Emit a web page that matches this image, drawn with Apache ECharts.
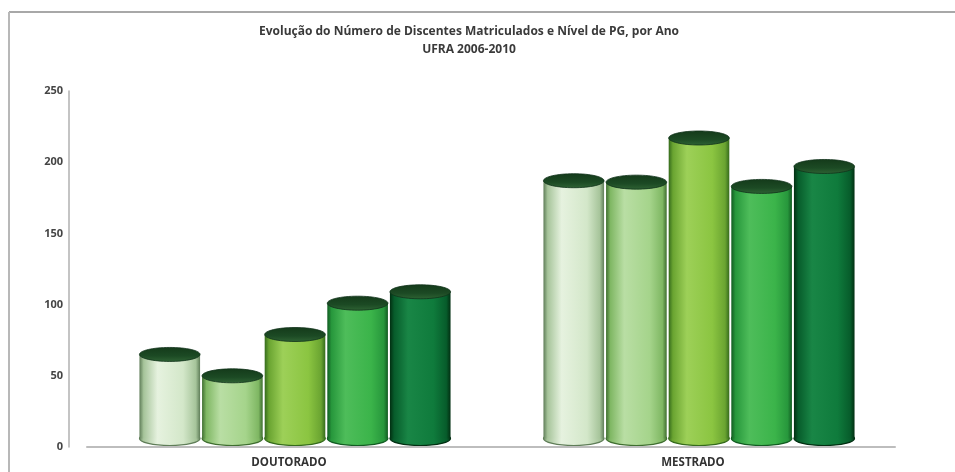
<!DOCTYPE html>
<html>
<head>
<meta charset="utf-8">
<script src="https://cdn.jsdelivr.net/npm/echarts@6/dist/echarts.min.js"></script>
<style>
html,body{margin:0;padding:0;background:#fff;}
#chart{width:955px;height:472px;}
</style>
</head>
<body>
<div id="chart"></div>
<script>
// ---- data ----
const categories = ['DOUTORADO', 'MESTRADO'];
const years = ['2006', '2007', '2008', '2009', '2010'];
const doutorado = [65, 50, 79, 101, 109];
const mestrado = [187, 186, 217, 183, 197];
const yTicks = [0, 50, 100, 150, 200, 250];

// ---- styles ----
const palette = [
  {edge:'#5f7d58', shade:'#a6c49a', base:'#d3e7c9', hi:'#e6f2df'},
  {edge:'#3f6e30', shade:'#7fb763', base:'#a5d48b', hi:'#b9dea4'},
  {edge:'#356b1c', shade:'#6aa431', base:'#8bc541', hi:'#9dd058'},
  {edge:'#125c22', shade:'#27973c', base:'#3bb44a', hi:'#4ebd5a'},
  {edge:'#022f12', shade:'#075c2b', base:'#0f7b3c', hi:'#198646'}
];
const topColor = '#1c4a24';

const chart = echarts.init(document.getElementById('chart'));

function bodyGradient(p) {
  return new echarts.graphic.LinearGradient(0, 0, 1, 0, [
    {offset: 0, color: p.edge},
    {offset: 0.07, color: p.shade},
    {offset: 0.3, color: p.hi},
    {offset: 0.72, color: p.base},
    {offset: 0.93, color: p.shade},
    {offset: 1, color: p.edge}
  ]);
}

function makeRender(si) {
  return function (params, api) {
    const cat = api.value(0);
    const val = api.value(1);
    const top = api.coord([cat, val]);
    const base = api.coord([cat, 0]);
    const band = api.size([1, 0])[0];
    const groupW = band * 0.775;
    const slot = groupW / years.length;
    const w = slot - 2;
    const cx = base[0] - groupW / 2 + slot * (si + 0.5) + 6;
    const ry = 7;
    const rx = w / 2;
    const by = base[1] - ry - 1.5;
    const ty = top[1];
    const p = palette[si];
    const grad = bodyGradient(p);
    return {
      type: 'group',
      children: [
        {type: 'ellipse', shape: {cx: cx, cy: by, rx: rx, ry: ry},
          style: {fill: grad, stroke: p.edge, lineWidth: 1.2}},
        {type: 'rect', shape: {x: cx - rx, y: ty, width: w, height: Math.max(0, by - ty)},
          style: {fill: grad}},
        {type: 'ellipse', shape: {cx: cx, cy: ty, rx: rx, ry: ry},
          style: {
            fill: new echarts.graphic.LinearGradient(0, 0, 0, 1, [
              {offset: 0, color: '#143a1a'},
              {offset: 0.6, color: topColor},
              {offset: 1, color: '#2f6334'}
            ]),
            stroke: '#10321a', lineWidth: 0.8
          }}
      ]
    };
  };
}

const series = years.map(function (y, i) {
  return {
    type: 'custom',
    name: y,
    renderItem: makeRender(i),
    encode: {x: 0, y: 1},
    data: [[0, doutorado[i]], [1, mestrado[i]]],
    clip: false
  };
});

const option = {
  backgroundColor: '#ffffff',
  animation: false,
  title: {
    text: 'Evolução do Número de Discentes Matriculados e Nível de PG, por Ano\nUFRA 2006-2010',
    left: 469,
    top: 23,
    padding: 0,
    textAlign: 'center',
    textStyle: {
      fontFamily: 'Open Sans',
      fontSize: 12,
      fontWeight: 'bold',
      color: '#3a3a3a',
      lineHeight: 18
    }
  },
  graphic: [
    {type: 'line', shape: {x1: 9, y1: 12, x2: 955, y2: 12}, style: {stroke: '#a8a8a8', lineWidth: 2}},
    {type: 'line', shape: {x1: 9, y1: 12, x2: 9, y2: 472}, style: {stroke: '#b8b8b8', lineWidth: 2}}
  ],
  grid: {left: 87, right: 60, top: 91, bottom: 25},
  xAxis: {
    type: 'category',
    data: categories,
    axisLine: {show: true, lineStyle: {color: '#bdbdbd', width: 2}},
    axisTick: {show: false},
    axisLabel: {
      margin: 10,
      fontFamily: 'Open Sans',
      fontSize: 11.5,
      fontWeight: 'bold',
      color: '#333'
    }
  },
  yAxis: {
    type: 'value',
    min: yTicks[0],
    max: yTicks[yTicks.length - 1],
    interval: yTicks[1] - yTicks[0],
    offset: 18,
    axisLine: {show: true, lineStyle: {color: '#b0b0b0', width: 1.5}},
    axisTick: {show: false},
    splitLine: {show: false},
    axisLabel: {
      margin: 6,
      fontFamily: 'Open Sans',
      fontSize: 11,
      fontWeight: 'bold',
      color: '#444'
    }
  },
  series: series
};

chart.setOption(option);
</script>
</body>
</html>
